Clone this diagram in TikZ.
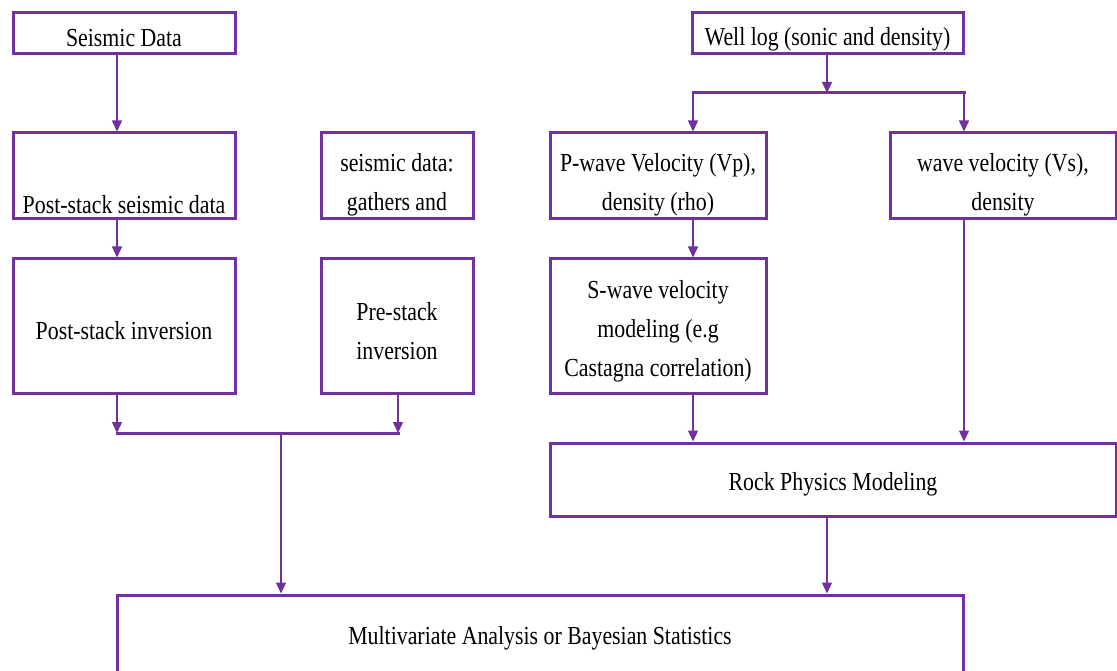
\documentclass[tikz,border=0pt]{standalone}
\usepackage{fontspec}
\setmainfont{Liberation Serif}[FakeStretch=0.84]
\usetikzlibrary{arrows.meta,calc}
\definecolor{purp}{HTML}{7030A0}
\tikzset{
  box/.style={draw=purp, line width=3pt, fill=white, inner sep=0pt},
  txt/.style={font=\fontsize{26}{39}\selectfont, align=center, text=black, yshift=-5pt, inner sep=0pt},
  txttwo/.style={txt, yshift=-4pt},
  arr/.style={draw=purp, line width=1.5pt, -{Triangle[length=11pt,width=10pt]}},
  bar/.style={draw=purp, line width=3pt, line cap=rect},
}
\begin{document}
\begin{tikzpicture}[x=1pt,y=-1pt]
\useasboundingbox (0,0) rectangle (1117,671);
\clip (0,0) rectangle (1117,671);

% seismic branch
\node[box, minimum width=222pt, minimum height=41pt,
      label={[txt]center:Seismic Data}] (seis) at (124,33.5) {};
\node[box, minimum width=222pt, minimum height=86pt,
      label={[txttwo]center:{\vphantom{Pd}\\Post-stack seismic data}}] (postdata) at (124,176) {};
\node[box, minimum width=152pt, minimum height=86pt,
      label={[txttwo]center:{seismic data:\\gathers and}}] (gathers) at (397,176) {};
\node[box, minimum width=222pt, minimum height=134pt,
      label={[txt]center:Post-stack inversion}] (postinv) at (124,326) {};
\node[box, minimum width=152pt, minimum height=134pt,
      label={[txt]center:{Pre-stack\\inversion}}] (preinv) at (397,326) {};

% well-log branch
\node[box, minimum width=271pt, minimum height=41pt,
      label={[txt,yshift=-1pt]center:Well log (sonic and density)}] (well) at (827.5,33.5) {};
\node[box, minimum width=216pt, minimum height=86pt,
      label={[txttwo]center:{P-wave Velocity (Vp),\\density (rho)}}] (pwave) at (658,176) {};
\node[box, minimum width=226pt, minimum height=86pt,
      label={[txttwo]center:{wave velocity (Vs),\\density}}] (svel) at (1003,176) {};
\node[box, minimum width=216pt, minimum height=134pt,
      label={[txt]center:{S-wave velocity\\modeling (e.g\\Castagna correlation)}}] (swmod) at (658,326) {};
\node[box, minimum width=566pt, minimum height=73pt,
      label={[txt]center:Rock Physics Modeling}] (rock) at (833,479.5) {};

% final stage
\node[box, minimum width=846pt, minimum height=85pt,
      label={[txt,yshift=4pt]center:Multivariate Analysis or Bayesian Statistics}] (multi) at (540,637.5) {};

% connectors, seismic side
\coordinate (xl) at (117,0);
\coordinate (jl) at (117,433);
\coordinate (jr) at (398,433);
\coordinate (jm) at (281,433);
\draw[arr] (seis.south -| xl) -- (postdata.north -| xl);
\draw[arr] (postdata.south -| xl) -- (postinv.north -| xl);
\draw[arr] (postinv.south -| jl) -- (jl);
\draw[arr] (preinv.south -| jr) -- (jr);
\draw[bar] (jl) -- (jr);
\draw[arr] (jm) -- (multi.north -| jm);

% connectors, well-log side
\coordinate (wl) at (827,93);
\coordinate (bl) at (693,93);
\coordinate (br) at (964,93);
\draw[arr] (well.south -| wl) -- (wl);
\draw[bar] (bl) -- (br);
\draw[arr] (bl) -- (pwave.north -| bl);
\draw[arr] (br) -- (svel.north -| br);
\draw[arr] (pwave.south -| bl) -- (swmod.north -| bl);
\draw[arr] (swmod.south -| bl) -- (rock.north -| bl);
\draw[arr] (svel.south -| br) -- (rock.north -| br);
\draw[arr] (rock.south -| wl) -- (multi.north -| wl);
\end{tikzpicture}
\end{document}
